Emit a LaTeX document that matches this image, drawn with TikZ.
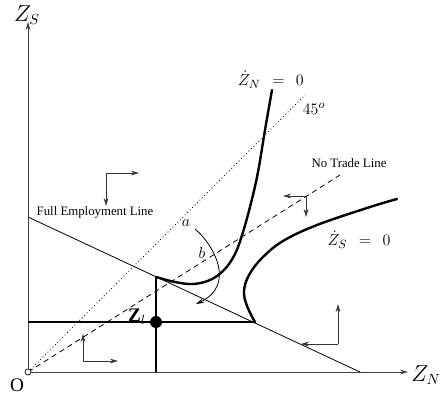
\documentclass[tikz,border=0pt]{standalone}
\usepackage{fontspec}
\setmainfont{Liberation Serif}
\usetikzlibrary{arrows.meta}
\begin{document}
\begin{tikzpicture}[x=0.75pt,y=-0.75pt,
  axis/.style={draw=black!75,line width=0.6pt,-{Stealth[length=6pt,width=3.5pt]}},
  phase/.style={draw=black!80,line width=0.6pt,-{Stealth[length=6pt,width=3.5pt]}},
  thin/.style={line width=0.6pt},
  curve/.style={line width=1.8pt,line cap=round,line join=round},
  txt/.style={font=\fontsize{9.6}{11}\selectfont,inner sep=0pt},
  mlab/.style={font=\fontsize{12.5}{14}\selectfont,inner sep=0pt},
  blab/.style={font=\fontsize{16}{18}\selectfont,inner sep=0pt}]
\useasboundingbox (0,0) rectangle (441,400);
% key coordinates
\coordinate (O) at (28,372);
\coordinate (ys) at (28,22);
\coordinate (xn) at (408,372);
\coordinate (fe0) at (28,217);
\coordinate (fe1) at (360,372);
\coordinate (d45) at (305,95);
\coordinate (nt) at (340,175);
\coordinate (hl) at (255,322);
\coordinate (vt) at (156,277);
\coordinate (vb) at (156,372);
\coordinate (hs) at (28,322);
\coordinate (Zl) at (156,322);
% axes
\draw[axis] (O) -- (ys);
\draw[axis] (O) -- (xn);
\node[blab] (lzs) at (27,15) {$Z_S$};
\node[blab] (lzn) at (426,375) {$Z_N$};
\node[font=\Large,inner sep=0pt] (lO) at (17,385) {O};
% lines
\draw[thin] (fe0) -- (fe1);
\draw[thin,dotted] (O) -- (d45);
\draw[thin,dashed,dash pattern=on 4pt off 3pt] (O) -- (nt);
\node[txt] (lfe) at (95,212) {Full Employment Line};
\node[txt] (lnt) at (349,163) {No Trade Line};
\node[mlab] (l45) at (314,109) {$45^o$};
% thick lines
\draw[curve,line cap=butt] (hs) -- (hl);
\draw[curve,line cap=butt] (vb) -- (vt);
% Zdot_N = 0
\draw[curve] plot[smooth,tension=0.6] coordinates {(156,277) (175,282) (193,284) (210,280) (224,270) (235,254) (243,232) (251,203) (258,172) (265,130) (272,90)};
\node[mlab] (lzn0) at (271,80) {$\dot{Z}_N\;\,=\;\,0$};
% Zdot_S = 0
\draw[curve] plot[smooth,tension=0.6] coordinates {(255,322) (247,306) (244,291) (249,275) (262,258) (283,241) (317,225) (370,207) (397,199)};
\node[mlab] (lzs0) at (359,240) {$\dot{Z}_S\;\,=\;\,0$};
% Zl
\fill (Zl) circle (6);
\node[font=\Large,inner sep=0pt] (lzl) at (137,317) {$\mathbf{Z}_l$};
\draw[fill=white,line width=0.5pt] (O) circle (3);
% a -> b arc
\node[mlab] (la) at (186,223) {$a$};
\node[mlab] (lb) at (202,253) {$b$};
\coordinate (ar0) at (195,229);
\coordinate (ar1) at (196,304);
\draw[line width=0.6pt,-{Stealth[length=6pt,width=3.5pt]}] (ar0) .. controls (214,245) and (236,285) .. (ar1);
% phase arrows
\coordinate (p1) at (106,173);
\coordinate (p1a) at (106,206);
\coordinate (p1b) at (139,173);
\draw[phase] (p1) -- (p1a);
\draw[phase] (p1) -- (p1b);
\coordinate (p2) at (306,196);
\coordinate (p2a) at (283,196);
\coordinate (p2b) at (306,217);
\draw[phase] (p2) -- (p2a);
\draw[phase] (p2) -- (p2b);
\coordinate (p3) at (83,361);
\coordinate (p3a) at (83,334);
\coordinate (p3b) at (118,361);
\draw[phase] (p3) -- (p3a);
\draw[phase] (p3) -- (p3b);
\coordinate (p4) at (338,344);
\coordinate (p4a) at (338,304);
\coordinate (p4b) at (301,344);
\draw[phase] (p4) -- (p4a);
\draw[phase] (p4) -- (p4b);
\end{tikzpicture}
\end{document}
